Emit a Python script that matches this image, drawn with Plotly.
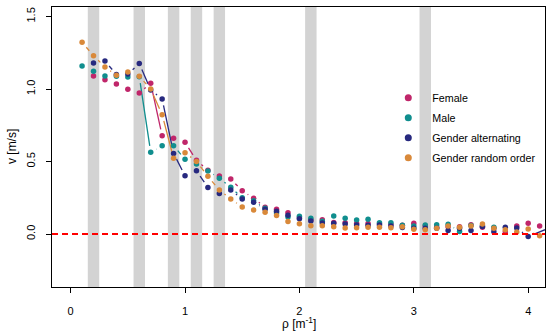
import plotly.graph_objects as go
import math

# ---------------- data ----------------
rho = [round(0.1 * i, 1) for i in range(1, 43)]  # 0.1 .. 4.2

female = [None, 1.09, 1.064, 1.034, 0.998, 0.972, 1.039, 0.678, 0.66, 0.632,
          0.508, 0.44, 0.40, 0.379, 0.299, 0.246, 0.184, 0.17, 0.147, 0.11,
          0.097, 0.099, 0.08, 0.078, 0.072, 0.072, 0.069, 0.067, 0.06, 0.074,
          0.055, 0.047, 0.05, 0.05, 0.064, 0.046, 0.04, 0.015, 0.056, 0.074,
          0.056, None]
male = [1.159, 1.122, 1.09, 1.088, 1.083, 1.085, 0.563, 0.609, 0.609, 0.515,
        0.483, 0.435, 0.385, 0.322, 0.25, 0.23, 0.177, 0.145, 0.117, 0.122,
        0.108, 0.088, 0.124, 0.108, 0.097, 0.101, 0.078, 0.078, 0.06, 0.055,
        0.062, 0.063, 0.068, 0.018, 0.058, 0.055, 0.046, None, None, None,
        None, None]
alternating = [None, 1.18, 1.193, 1.10, 1.103, 1.175, 0.993, 0.931, 0.556, 0.402,
               0.437, 0.32, 0.28, 0.303, 0.241, 0.219, 0.17, 0.157, 0.13, 0.105,
               0.09, 0.076, 0.075, 0.069, 0.062, 0.06, 0.062, 0.055, 0.045, 0.04,
               0.04, 0.04, 0.025, 0.04, 0.025, 0.052, 0.016, 0.046, 0.041, -0.018,
               None, 0.047]
random_order = [1.322, 1.23, 1.152, 1.095, 1.117, 1.088, 1.0, 0.823, 0.522, 0.561,
                0.50, 0.398, 0.303, 0.241, 0.186, 0.166, 0.15, 0.128, 0.087, 0.07,
                0.057, 0.057, 0.05, 0.041, 0.043, 0.046, 0.046, 0.043, 0.05, 0.033,
                0.03, 0.04, 0.055, 0.046, 0.055, 0.069, 0.04, 0.03, 0.014, 0.035,
                -0.012, None]

series_names = ["Female", "Male", "Gender alternating", "Gender random order"]
series_vals = [female, male, alternating, random_order]
series_colors = ["#C0266A", "#108E8E", "#27297F", "#D9893A"]

bands = [(0.15, 0.25), (0.55, 0.65), (0.85, 0.95), (1.05, 1.15),
         (1.25, 1.35), (2.05, 2.15), (3.05, 3.15)]

x_ticks = [0, 1, 2, 3, 4]
y_ticks = [0.0, 0.5, 1.0, 1.5]
y_tick_text = ["0.0", "0.5", "1.0", "1.5"]

x_title = "ρ [m<sup>-1</sup>]"
y_title = "v [m/s]"

# ---------------- layout geometry ----------------
W, H = 550, 335
ml, mr, mt, mb = 52, 4.5, 7, 48
xr = [-0.163, 4.147]
yr = [-0.3655, 1.5655]
pw = W - ml - mr
ph = H - mt - mb
sx = pw / (xr[1] - xr[0])
sy = ph / (yr[1] - yr[0])
GAP = 6.5  # px gap around points, like R type="b"

fig = go.Figure()

# R type="b" style line segments (shortened near the points)
for name, vals, col in zip(series_names, series_vals, series_colors):
    pts = [(x, v) for x, v in zip(rho, vals) if v is not None]
    sxs, sys_ = [], []
    for (x0, y0), (x1, y1) in zip(pts[:-1], pts[1:]):
        dxp = (x1 - x0) * sx
        dyp = (y1 - y0) * sy
        d = math.hypot(dxp, dyp)
        if d <= 2 * GAP:
            continue
        f = GAP / d
        sxs += [x0 + (x1 - x0) * f, x1 - (x1 - x0) * f, None]
        sys_ += [y0 + (y1 - y0) * f, y1 - (y1 - y0) * f, None]
    fig.add_trace(go.Scatter(x=sxs, y=sys_, mode="lines",
                             line=dict(color=col, width=1.3),
                             showlegend=False, hoverinfo="skip"))

for name, vals, col in zip(series_names, series_vals, series_colors):
    fig.add_trace(go.Scatter(x=rho, y=vals, mode="markers",
                             marker=dict(color=col, size=5.5),
                             showlegend=False, name=name))

# legend entries
for i, (name, col) in enumerate(zip(series_names, series_colors)):
    fig.add_trace(go.Scatter(x=[None], y=[None], mode="markers", name=name,
                             marker=dict(color=col, size=7),
                             legendgroup=f"g{i}"))

shapes = []
for a, b in bands:
    shapes.append(dict(type="rect", xref="x", yref="paper", x0=a, x1=b, y0=0, y1=1,
                       fillcolor="#D3D3D3", line=dict(width=0), layer="below"))
shapes.append(dict(type="line", xref="paper", yref="y", x0=0, x1=1, y0=0, y1=0,
                   line=dict(color="#FF0000", width=2, dash="6px,4px"), layer="above"))

font = "Liberation Sans, Arial, sans-serif"
annotations = [
    dict(text=x_title, xref="paper", yref="paper", x=0.5, y=(mt + ph - 323) / ph,
         xanchor="center", yanchor="middle", showarrow=False,
         font=dict(size=12)),
    dict(text=y_title, xref="paper", yref="paper", x=(12 - ml) / pw, y=0.5,
         xanchor="center", yanchor="middle", showarrow=False, textangle=-90,
         font=dict(size=12)),
]

fig.update_layout(
    width=W, height=H,
    margin=dict(l=ml, r=mr, t=mt, b=mb, autoexpand=False),
    plot_bgcolor="white", paper_bgcolor="white",
    font=dict(family=font, size=11, color="black"),
    shapes=shapes,
    annotations=annotations,
    showlegend=True,
    legend=dict(x=0.674, y=0.728, xanchor="left", yanchor="top",
                font=dict(size=10.7, family=font), tracegroupgap=1,
                itemwidth=38, bgcolor="rgba(0,0,0,0)"),
    xaxis=dict(range=xr, tickvals=x_ticks, ticktext=[str(t) for t in x_ticks],
               showgrid=False, zeroline=False, showline=True, mirror=True,
               linecolor="black", linewidth=1, ticks="outside", ticklen=5,
               tickcolor="black", ticklabelstandoff=9, automargin=False),
    yaxis=dict(range=yr, tickvals=y_ticks, ticktext=y_tick_text, tickangle=-90,
               showgrid=False, zeroline=False, showline=True, mirror=True,
               linecolor="black", linewidth=1, ticks="outside", ticklen=5,
               tickcolor="black", ticklabelstandoff=7, automargin=False),
)

fig.write_html("out.html", config={"displayModeBar": False},
               post_script="document.body.style.margin='0';document.body.style.padding='0';")
